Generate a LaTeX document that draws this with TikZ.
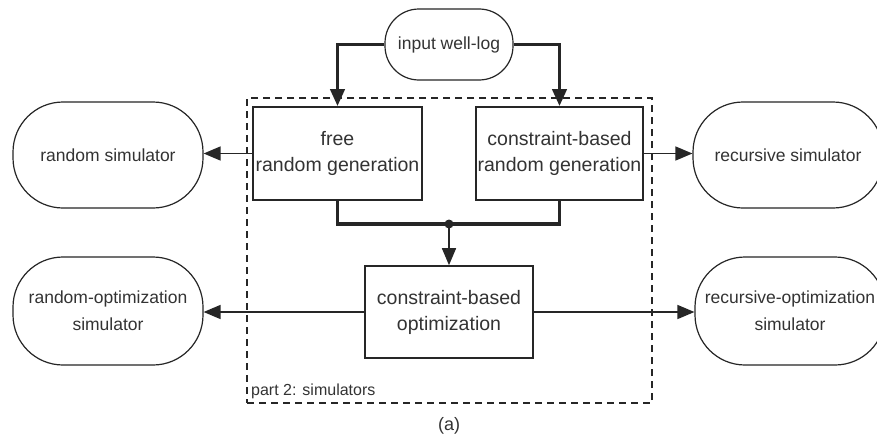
\documentclass[tikz,border=0pt]{standalone}
\usepackage{fontspec}
\setmainfont{Liberation Sans}
\usetikzlibrary{arrows.meta}
\definecolor{ink}{HTML}{262626}
\definecolor{txt}{HTML}{333333}
\tikzset{
  procbox/.style={draw=ink, line width=1.6pt, align=center, text=txt,
    font=\fontsize{19.5}{26}\selectfont, inner sep=0pt},
  simnode/.style={draw=ink, line width=1.2pt, rounded corners=50pt, align=center, text=txt,
    font=\fontsize{17.5}{27}\selectfont, inner sep=0pt},
  thinarrow/.style={draw=ink, line width=1.5pt, -{Triangle[length=17pt,width=14pt]}},
  thickarrow/.style={draw=ink, line width=3.8pt, -{Triangle[length=17pt,width=14pt]}},
  thickline/.style={draw=ink, line width=3.8pt},
}
\begin{document}
\begin{tikzpicture}[x=1pt,y=-1pt]
\useasboundingbox (0,0) rectangle (877,439);
\fill[white] (0,0) rectangle (877,439);

% dashed container
\node[draw=ink, line width=1.5pt, dash pattern=on 7pt off 5pt, minimum width=405pt, minimum height=305pt, inner sep=0pt] (part) at (449.5,250.5) {};
\node[anchor=base west, text=txt, font=\fontsize{16}{18}\selectfont, inner sep=0pt] (partlbl) at (251,395) {part 2: simulators};
\node[anchor=base, text=txt, font=\fontsize{18}{20}\selectfont, inner sep=0pt] (cap) at (449,430) {(a)};

% input
\node[simnode, rounded corners=34pt, minimum width=128pt, minimum height=71pt] (in) at (449,44.5) {input well-log};

% process boxes
\node[procbox, minimum width=169pt, minimum height=93pt] (free) at (337.5,153.5) {free\\random generation};
\node[procbox, minimum width=167pt, minimum height=93pt] (crb) at (559.5,153.5) {constraint-based\\random generation};
\node[procbox, minimum width=168pt, minimum height=92pt] (opt) at (449,312) {constraint-based\\optimization};

% simulators
\node[simnode, minimum width=190pt, minimum height=106pt] (rs) at (108,155) {random simulator};
\node[simnode, minimum width=190pt, minimum height=106pt] (rec) at (788,155) {recursive simulator};
\node[simnode, minimum width=190pt, minimum height=108pt] (ros) at (108,311) {random-optimization\\simulator};
\node[simnode, minimum width=190pt, minimum height=108pt] (reo) at (790,311) {recursive-optimization\\simulator};

% connectors
\draw[thickarrow] (in.west) -| (free.north);
\draw[thickarrow] (in.east) -| (crb.north);
\coordinate (j) at (449,224);
\draw[thickline] (free.south) |- (j) -| (crb.south);
\fill[ink] (j) circle (4.5pt);
\draw[thinarrow] (j) -- (opt.north);
\draw[thinarrow] (free.west |- 0,153.5) -- (rs.east |- 0,153.5);
\draw[thinarrow] (crb.east |- 0,153.5) -- (rec.west |- 0,153.5);
\draw[thinarrow] (opt.west) -- (ros.east |- opt.west);
\draw[thinarrow] (opt.east) -- (reo.west |- opt.east);
\end{tikzpicture}
\end{document}
